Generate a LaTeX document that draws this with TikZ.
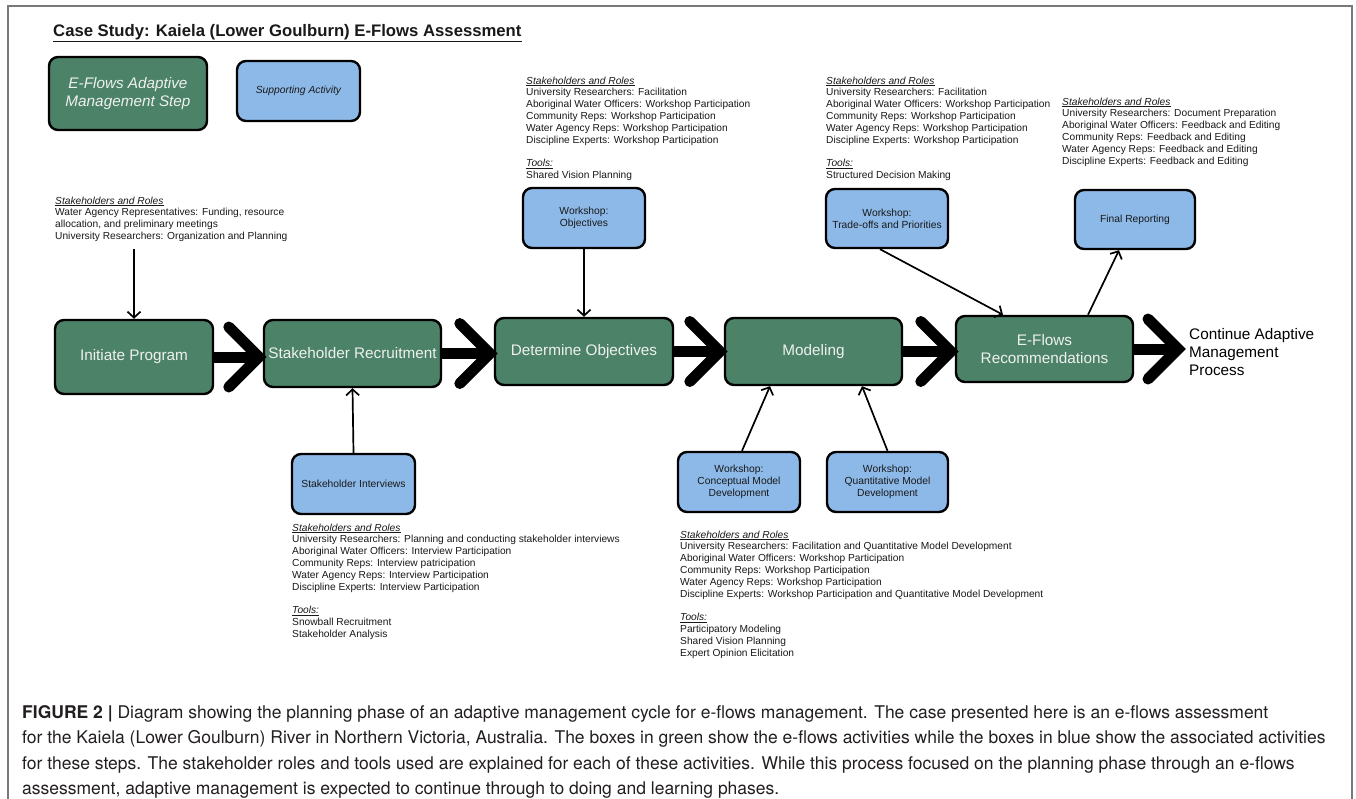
\documentclass[tikz,border=0pt]{standalone}
\usepackage{fontspec}
\setmainfont{Liberation Sans}
\newfontfamily\capfont{TeX Gyre Heros}
\usetikzlibrary{arrows.meta,calc}

\definecolor{gbox}{RGB}{76,130,104}
\definecolor{bbox}{RGB}{141,185,232}
\definecolor{gtext}{RGB}{238,241,238}
\definecolor{framecol}{RGB}{120,120,120}
\definecolor{captxt}{RGB}{35,31,32}
\definecolor{txt}{RGB}{25,25,25}

\begin{document}
\begin{tikzpicture}[x=1pt,y=-1pt,
  greenbox/.style={draw=black,line width=2.4pt,rounded corners=9pt,fill=gbox,text=gtext,
    font=\fontsize{15.3}{18.4}\selectfont,align=center,inner sep=0pt},
  bluebox/.style={draw=black,line width=2.4pt,rounded corners=9pt,fill=bbox,text=txt,
    font=\fontsize{10.3}{12}\selectfont,align=center,inner sep=0pt},
  infotext/.style={anchor=north west,inner sep=0pt,align=left,text=txt,
    font=\fontsize{10.2}{11.8}\selectfont},
  thinarrow/.style={line width=1.7pt,-{Straight Barb[length=6pt,width=13pt,line width=1.7pt]}},
  shaft/.style={line width=11pt},
  chev/.style={line width=11pt,line cap=round,line join=miter},
  captionline/.style={anchor=base west,inner sep=0pt,text=captxt,
    font=\capfont\fontsize{17.5}{25.5}\selectfont},
]
\newcommand\chevronat[1]{\draw[chev] ($(#1)+(-34,-30)$) -- ($(#1)+(-4,0)$) -- ($(#1)+(-34,30)$);}

\useasboundingbox (0,0) rectangle (1356,798);
\fill[white] (0,0) rectangle (1356,798);
\draw[framecol,line width=1.3pt] (8,812) -- (8,6) -- (1352,6) -- (1352,812);

% title
\node[anchor=base west,inner sep=0pt,text=txt,font=\bfseries\fontsize{16.7}{20}\selectfont] (title) at (53,36)
  {\underline{Case Study: Kaiela (Lower Goulburn) E-Flows Assessment}};

% legend
\node[greenbox,minimum width=158pt,minimum height=73pt,font=\itshape\fontsize{15.3}{18.4}\selectfont] (lg) at (128,93.5)
  {E-Flows Adaptive\\Management Step};
\node[bluebox,minimum width=123pt,minimum height=60pt,font=\itshape\fontsize{10.3}{12}\selectfont] (lb) at (298.5,91)
  {Supporting Activity};

% main steps
\node[greenbox,minimum width=158pt,minimum height=74pt] (ip) at (134,357) {Initiate Program};
\node[greenbox,minimum width=177pt,minimum height=67pt] (sr) at (352.5,353.5) {Stakeholder Recruitment};
\node[greenbox,minimum width=178pt,minimum height=67pt] (do) at (584,351.5) {Determine Objectives};
\node[greenbox,minimum width=177pt,minimum height=67pt] (mo) at (813.5,351.5) {Modeling};
\node[greenbox,minimum width=177pt,minimum height=66pt] (ef) at (1044.5,349) {E-Flows\\Recommendations};
\node[anchor=west,inner ysep=0pt,inner xsep=7pt,align=left,text=black,font=\fontsize{15.3}{18}\selectfont] (ct) at (1182,352)
  {Continue Adaptive\\Management\\Process};

% supporting activities
\node[bluebox,minimum width=122pt,minimum height=60pt] (wo) at (584,218) {Workshop:\\Objectives};
\node[bluebox,minimum width=122pt,minimum height=59pt] (wt) at (887,218.5) {Workshop:\\Trade-offs and Priorities};
\node[bluebox,minimum width=120pt,minimum height=59pt] (fr) at (1135,219.5) {Final Reporting};
\node[bluebox,minimum width=123pt,minimum height=60pt] (si) at (353.5,484) {Stakeholder Interviews};
\node[bluebox,minimum width=122pt,minimum height=60pt] (wc) at (739,482) {Workshop:\\Conceptual Model\\Development};
\node[bluebox,minimum width=121pt,minimum height=60pt] (wq) at (887.5,482) {Workshop:\\Quantitative Model\\Development};

% info texts
\node[infotext] (b1) at (55,196.5) {\underline{\textit{Stakeholders and Roles}}\\
Water Agency Representatives: Funding, resource\\
allocation, and preliminary meetings\\
University Researchers: Organization and Planning};

\node[infotext] (b2) at (526,76.5) {\underline{\textit{Stakeholders and Roles}}\\
University Researchers: Facilitation\\
Aboriginal Water Officers: Workshop Participation\\
Community Reps: Workshop Participation\\
Water Agency Reps: Workshop Participation\\
Discipline Experts: Workshop Participation\\[11.8pt]
\underline{\textit{Tools:}}\\
Shared Vision Planning};

\node[infotext] (b3) at (826,76.5) {\underline{\textit{Stakeholders and Roles}}\\
University Researchers: Facilitation\\
Aboriginal Water Officers: Workshop Participation\\
Community Reps: Workshop Participation\\
Water Agency Reps: Workshop Participation\\
Discipline Experts: Workshop Participation\\[11.8pt]
\underline{\textit{Tools:}}\\
Structured Decision Making};

\node[infotext] (b4) at (1062,97.5) {\underline{\textit{Stakeholders and Roles}}\\
University Researchers: Document Preparation\\
Aboriginal Water Officers: Feedback and Editing\\
Community Reps: Feedback and Editing\\
Water Agency Reps: Feedback and Editing\\
Discipline Experts: Feedback and Editing};

\node[infotext] (b5) at (292,523.5) {\underline{\textit{Stakeholders and Roles}}\\
University Researchers: Planning and conducting stakeholder interviews\\
Aboriginal Water Officers: Interview Participation\\
Community Reps: Interview patricipation\\
Water Agency Reps: Interview Participation\\
Discipline Experts: Interview Participation\\[11.8pt]
\underline{\textit{Tools:}}\\
Snowball Recruitment\\
Stakeholder Analysis};

\node[infotext] (b6) at (680,530.5) {\underline{\textit{Stakeholders and Roles}}\\
University Researchers: Facilitation and Quantitative Model Development\\
Aboriginal Water Officers: Workshop Participation\\
Community Reps: Workshop Participation\\
Water Agency Reps: Workshop Participation\\
Discipline Experts: Workshop Participation and Quantitative Model Development\\[11.8pt]
\underline{\textit{Tools:}}\\
Participatory Modeling\\
Shared Vision Planning\\
Expert Opinion Elicitation};

% thin connectors
\coordinate (c1) at (134,249);
\draw[thinarrow] (c1) -- (ip.north);
\draw[thinarrow] (wo.south) -- (do.north);
\draw[thinarrow] (si.north) -- (sr.south);
\draw[thinarrow] ([xshift=-7pt]wt.south) -- ([xshift=-41.5pt]ef.north);
\draw[thinarrow] ([xshift=43.5pt]ef.north) -- ([xshift=-16pt]fr.south);
\draw[thinarrow] ([xshift=3pt]wc.north) -- ([xshift=-43.5pt]mo.south);
\draw[thinarrow] (wq.north) -- ([xshift=48.5pt]mo.south);

% thick chevron connectors
\draw[shaft] (ip.east) -- ($(ip.east -| sr.west)+(-4,0)$);
\chevronat{ip.east -| sr.west}
\draw[shaft] (sr.east) -- ($(sr.east -| do.west)+(-4,0)$);
\chevronat{sr.east -| do.west}
\draw[shaft] (do.east) -- ($(do.east -| mo.west)+(-4,0)$);
\chevronat{do.east -| mo.west}
\draw[shaft] (mo.east) -- ($(mo.east -| ef.west)+(-4,0)$);
\chevronat{mo.east -| ef.west}
\draw[shaft] (ef.east) -- ($(ef.east -| ct.west)+(-4,0)$);
\chevronat{ef.east -| ct.west}

% caption
\node[captionline] (cap1) at (22,718) {\textbf{FIGURE 2 |} Diagram showing the planning phase of an adaptive management cycle for e-flows management. The case presented here is an e-flows assessment};
\node[captionline] (cap2) at (22,743.5) {for the Kaiela (Lower Goulburn) River in Northern Victoria, Australia. The boxes in green show the e-flows activities while the boxes in blue show the associated activities};
\node[captionline] (cap3) at (22,769) {for these steps. The stakeholder roles and tools used are explained for each of these activities. While this process focused on the planning phase through an e-flows};
\node[captionline] (cap4) at (22,794.5) {assessment, adaptive management is expected to continue through to doing and learning phases.};
\end{tikzpicture}
\end{document}
